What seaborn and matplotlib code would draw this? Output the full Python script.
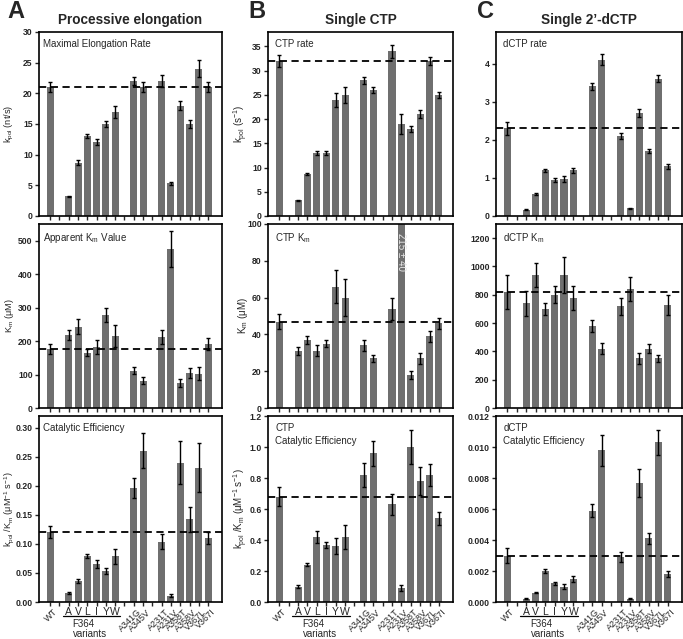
import numpy as np
import pandas as pd
import matplotlib
matplotlib.use("Agg")
import matplotlib.pyplot as plt
import matplotlib.transforms as mtransforms
import seaborn as sns

# variantes (con huecos entre grupos)
variantes = ["WT", "A", "V", "L", "I", "Y", "W", "A341G", "A345V",
             "A231T", "A231V", "A358T", "A358V", "V367L", "V367I"]
orden = ["WT", " ", "A", "V", "L", "I", "Y", "W", "  ", "A341G", "A345V", "   ",
         "A231T", "A231V", "A358T", "A358V", "V367L", "V367I"]

# A - elongacion procesiva
kpol_proc = [21, 3.2, 8.7, 13, 12, 15, 17, 22, 21, 22, 5.3, 18, 15, 24, 21]
kpol_proc_err = [0.8, 0.1, 0.4, 0.3, 0.5, 0.5, 1.0, 0.6, 0.8, 1.0, 0.3, 0.8, 0.7, 1.4, 0.8]
km_proc = [175, 218, 243, 165, 182, 278, 215, 112, 82, 212, 475, 75, 105, 103, 190]
km_proc_err = [15, 15, 22, 10, 20, 22, 32, 10, 10, 22, 55, 12, 15, 20, 18]
ef_proc = [0.120, 0.015, 0.036, 0.079, 0.066, 0.054, 0.079, 0.196, 0.260,
           0.104, 0.011, 0.240, 0.142, 0.231, 0.110]
ef_proc_err = [0.010, 0.002, 0.004, 0.004, 0.007, 0.005, 0.013, 0.017, 0.030,
               0.013, 0.002, 0.037, 0.021, 0.042, 0.010]

# B - CTP simple
kpol_ctp = [32, 3.2, 8.7, 13, 13, 24, 25, 28, 26, 34, 19, 18, 21, 32, 25]
kpol_ctp_err = [1.2, 0.1, 0.2, 0.5, 0.4, 1.4, 1.7, 0.7, 0.7, 1.4, 2.1, 0.6, 0.8, 0.9, 0.6]
km_ctp = [47, 31, 37, 31, 35, 66, 60, 34, 27, 54, 215, 18, 27, 39, 46]
km_ctp_err = [4, 2, 2, 3, 2, 9, 10, 3, 2, 6, 0, 2, 3, 3, 3]
ef_ctp = [0.68, 0.10, 0.24, 0.42, 0.37, 0.36, 0.42, 0.82, 0.96, 0.63, 0.09, 1.00, 0.78, 0.82, 0.54]
ef_ctp_err = [0.06, 0.01, 0.01, 0.04, 0.02, 0.05, 0.08, 0.08, 0.08, 0.07, 0.02, 0.11, 0.09, 0.07, 0.04]

# C - dCTP simple
kpol_dctp = [2.3, 0.17, 0.57, 1.2, 0.94, 0.98, 1.2, 3.4, 4.1, 2.1, 0.2, 2.7, 1.7, 3.6, 1.3]
kpol_dctp_err = [0.17, 0.01, 0.03, 0.04, 0.05, 0.08, 0.07, 0.10, 0.15, 0.08, 0.01, 0.10, 0.06, 0.09, 0.06]
km_dctp = [820, 740, 940, 700, 800, 940, 780, 580, 420, 720, 840, 350, 420, 350, 730]
km_dctp_err = [120, 90, 85, 45, 60, 130, 85, 40, 40, 60, 85, 40, 30, 25, 70]
ef_dctp = [0.0030, 0.0002, 0.0006, 0.0020, 0.0012, 0.0010, 0.0015, 0.0059, 0.0098,
           0.0029, 0.0002, 0.0077, 0.0041, 0.0103, 0.0018]
ef_dctp_err = [0.0005, 0.00003, 0.00005, 0.0001, 0.0001, 0.00015, 0.0002, 0.0004, 0.0010,
               0.0003, 0.00003, 0.0009, 0.00035, 0.0008, 0.0002]

sns.set_theme(style="ticks")
plt.rcParams['font.family'] = ['Liberation Sans', 'DejaVu Sans']
plt.rcParams['mathtext.fontset'] = 'custom'
plt.rcParams['mathtext.rm'] = 'Liberation Sans'
plt.rcParams['mathtext.it'] = 'Liberation Sans:italic'
plt.rcParams['mathtext.bf'] = 'Liberation Sans:bold'

COLOR_BARRA = '#6f6f6f'

fig = plt.figure(figsize=(6.83, 6.39), dpi=100)
lefts = [0.0571, 0.3924, 0.7262]
widths = [0.268, 0.2709, 0.2723]
bottoms = [0.662, 0.3615, 0.0579]
heights = [0.288, 0.288, 0.291]
texto_x = [0.02, 0.04, 0.04]
label_x = [-0.126, -0.095, -0.095]
label_fs = [6.6, 7, 7]

paneles = [
    # (col, fila, valores, errores, ylim, yticks, fmt, ylabel, texto)
    (0, 0, kpol_proc, kpol_proc_err, (0, 30), np.arange(0, 31, 5), '{:.0f}',
     r'k$_{\mathrm{pol}}$ (nt/s)', 'Maximal Elongation Rate'),
    (0, 1, km_proc, km_proc_err, (0, 550), np.arange(0, 501, 100), '{:.0f}',
     r'K$_{\mathrm{m}}$ (μM)', r'Apparent K$_{\mathrm{m}}$ Value'),
    (0, 2, ef_proc, ef_proc_err, (0, 0.32), np.arange(0, 0.31, 0.05), '{:.2f}',
     r'k$_{\mathrm{pol}}$ /K$_{\mathrm{m}}$ (μM$^{-1}$ s$^{-1}$)', 'Catalytic Efficiency'),
    (1, 0, kpol_ctp, kpol_ctp_err, (0, 38), np.arange(0, 36, 5), '{:.0f}',
     r'k$_{\mathrm{pol}}$ (s$^{-1}$)', 'CTP rate'),
    (1, 1, km_ctp, km_ctp_err, (0, 100), np.arange(0, 101, 20), '{:.0f}',
     r'K$_{\mathrm{m}}$ (μM)', r'CTP K$_{\mathrm{m}}$'),
    (1, 2, ef_ctp, ef_ctp_err, (0, 1.2), np.arange(0, 1.21, 0.2), '{:.1f}',
     r'k$_{\mathrm{pol}}$ /K$_{\mathrm{m}}$ (μM$^{-1}$ s$^{-1}$)', 'CTP\nCatalytic Efficiency'),
    (2, 0, kpol_dctp, kpol_dctp_err, (0, 4.83), np.arange(0, 5, 1), '{:.0f}',
     '', 'dCTP rate'),
    (2, 1, km_dctp, km_dctp_err, (0, 1300), np.arange(0, 1201, 200), '{:.0f}',
     '', r'dCTP K$_{\mathrm{m}}$'),
    (2, 2, ef_dctp, ef_dctp_err, (0, 0.012), np.arange(0, 0.0121, 0.002), '{:.3f}',
     '', 'dCTP\nCatalytic Efficiency'),
]

for col, fila, vals, errs, ylim, yticks, fmt, ylabel, texto in paneles:
    ax = fig.add_axes([lefts[col], bottoms[fila], widths[col], heights[fila]])
    df = pd.DataFrame({'variante': variantes, 'valor': vals, 'err': errs})
    sns.barplot(data=df, x='variante', y='valor', order=orden, color=COLOR_BARRA,
                saturation=1, width=0.75, errorbar=None, ax=ax, linewidth=0)
    pos = [orden.index(v) for v in variantes]
    mask = np.array(errs) > 0
    ax.errorbar(np.array(pos)[mask], np.array(vals)[mask], yerr=np.array(errs)[mask],
                fmt='none', ecolor='black', elinewidth=1.0, capsize=1.6, capthick=1.0)
    ax.axhline(vals[0], color='black', linestyle='--', linewidth=1.3, dashes=(4, 2.5))
    ax.set_xlim(-1.2, 18.5)
    ax.set_ylim(*ylim)
    ax.set_yticks(yticks)
    ax.set_yticklabels([fmt.format(t) for t in yticks], fontsize=6.2, fontweight='bold')
    ax.set_xticks(range(len(orden)))
    ax.set_xticklabels([''] * len(orden))
    ax.set_xlabel('')
    ax.set_ylabel(ylabel, fontsize=label_fs[col])
    ax.yaxis.set_label_coords(label_x[col], 0.5)
    ax.tick_params(axis='both', direction='out', length=3, width=1, pad=1.5)
    for sp in ax.spines.values():
        sp.set_linewidth(1.2)
        sp.set_color('black')
    ax.text(texto_x[col], 0.96, texto, transform=ax.transAxes, fontsize=7, va='top',
            ha='left', linespacing=1.3)

    if fila == 2:
        trans = mtransforms.blended_transform_factory(ax.transData, ax.transAxes)
        for i, o in enumerate(orden):
            if o.strip() == '':
                continue
            if o in ['A', 'V', 'L', 'I', 'Y', 'W']:
                ax.text(i, -0.025, o, transform=trans, ha='center', va='top', fontsize=7.5)
            else:
                ax.text(i + 0.3, -0.03, o, transform=trans, ha='right', va='top',
                        rotation=45, rotation_mode='anchor', fontsize=6.5)
        ax.plot([1.35, 7.5], [-0.075, -0.075], transform=trans, color='black',
                linewidth=0.9, clip_on=False)
        ax.text(3.6, -0.09, 'F364', transform=trans, ha='center', va='top', fontsize=7)
        ax.text(4.3, -0.145, 'variants', transform=trans, ha='center', va='top', fontsize=7)

    if col == 1 and fila == 1:
        i = orden.index('A231V')
        ax.text(i, 85, '215 ± 40', rotation=-90, ha='center', va='center',
                fontsize=7, color='#e8e8e8')

# titulos y letras de panel
titulos = ['Processive elongation', 'Single CTP', "Single 2’-dCTP"]
for col in range(3):
    cx = lefts[col] + widths[col] / 2
    fig.text(cx, 1 - 20 / 639, titulos[col], ha='center', va='center',
             fontsize=9.8, fontweight='bold')
fig.text(16 / 683, 1 - 11 / 639, 'A', ha='center', va='center', fontsize=17, fontweight='bold')
fig.text(257 / 683, 1 - 12 / 639, 'B', ha='center', va='center', fontsize=17, fontweight='bold')
fig.text(486 / 683, 1 - 12 / 639, 'C', ha='center', va='center', fontsize=17, fontweight='bold')

fig.savefig('out.png', dpi=100)
